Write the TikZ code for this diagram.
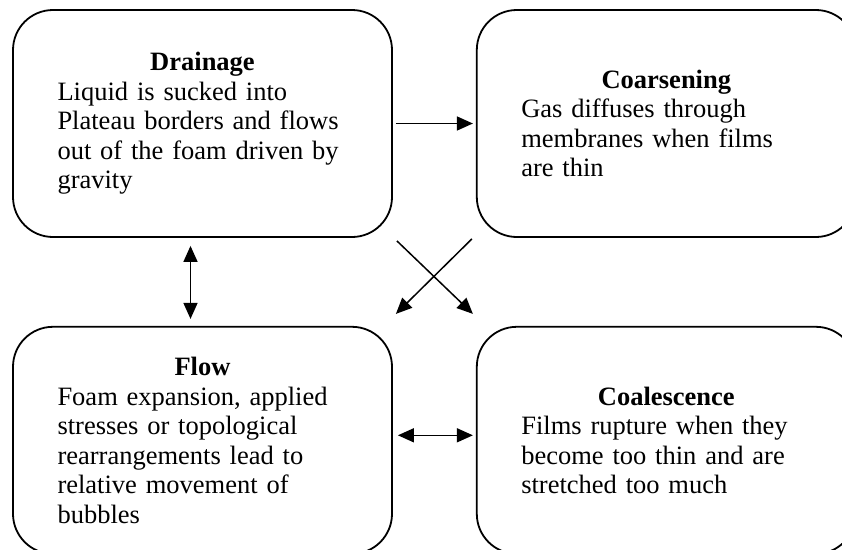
\documentclass[tikz,border=0pt]{standalone}
\usepackage{fontspec}
\setmainfont{Liberation Serif}
\usetikzlibrary{positioning,arrows.meta}

\tikzset{
  stagebox/.style={draw, line width=1.8pt, rounded corners=40pt,
    minimum width=379pt, minimum height=227pt, text width=290pt,
    align=left, font=\fontsize{26.5pt}{29.5pt}\selectfont},
  link/.style={line width=1.5pt},
}

\begin{document}
\begin{tikzpicture}[>={Triangle[length=16pt,width=14pt]}]
  \useasboundingbox (0,0) rectangle (842pt,-549pt);
  \node[stagebox] (drain) at (202.5pt,-123.5pt)
    {{\centering\textbf{Drainage}\par}Liquid is sucked into\\Plateau borders and flows\\out of the foam driven by\\gravity};
  \node[stagebox, right=83pt of drain] (coarse)
    {{\centering\textbf{Coarsening}\par}Gas diffuses through\\membranes when films\\are thin};
  \node[stagebox, below=88pt of drain] (flow)
    {{\centering\textbf{Flow}\par}Foam expansion, applied\\stresses or topological\\rearrangements lead to\\relative movement of\\bubbles};
  \node[stagebox, right=83pt of flow] (coal)
    {{\centering\textbf{Coalescence}\par}Films rupture when they\\become too thin and are\\stretched too much};
  % arrows between the stages
  \draw[link, ->, shorten <=3pt, shorten >=3pt] (drain) -- (coarse);
  \draw[link, <->, shorten <=8pt, shorten >=7pt] ([xshift=-12pt]drain.south) -- ([xshift=-12pt]flow.north);
  \draw[link, <->, shorten <=5pt, shorten >=3pt] ([yshift=5pt]flow.east) -- ([yshift=5pt]coal.west);
  \draw[link, ->] ([shift={(4pt,-3pt)}]drain.south east) -- ([shift={(-3pt,12pt)}]coal.north west);
  \draw[link, ->] ([shift={(-4pt,-1pt)}]coarse.south west) -- ([shift={(3pt,12pt)}]flow.north east);
\end{tikzpicture}
\end{document}
